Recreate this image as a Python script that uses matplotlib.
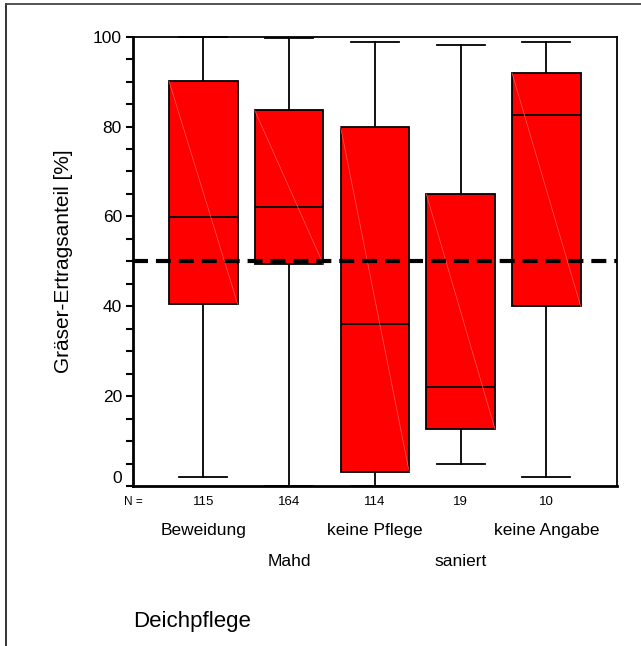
import numpy as np
import matplotlib.pyplot as plt
from matplotlib.lines import Line2D

plt.rcParams['font.family'] = ['Liberation Sans', 'DejaVu Sans']

# Data
categories = ['Beweidung', 'Mahd', 'keine Pflege', 'saniert', 'keine Angabe']
n_obs = [115, 164, 114, 19, 10]
whislo = [2.1, 0.0, 0.0, 5.0, 2.1]
q1 = [40.5, 49.3, 3.2, 12.7, 40.0]
med = [59.9, 62.2, 36.0, 22.0, 82.5]
q3 = [90.1, 83.6, 80.0, 65.0, 91.9]
whishi = [100.0, 99.8, 98.9, 98.2, 98.9]
ref_level = 50

stats = []
for i in range(len(categories)):
    stats.append({'whislo': whislo[i], 'q1': q1[i], 'med': med[i],
                  'q3': q3[i], 'whishi': whishi[i], 'fliers': []})

fig = plt.figure(figsize=(6.41, 6.46), dpi=100)
ax = fig.add_axes([133/641, 1 - 486/646, (616.7 - 133)/641, (486 - 36.7)/646])

pos = np.arange(1, len(categories) + 1)
bp = ax.bxp(stats, positions=pos, widths=0.8, capwidths=0.56, patch_artist=True,
            boxprops=dict(facecolor='#ff0000', edgecolor='black', linewidth=1.3),
            medianprops=dict(color='black', linewidth=1.3),
            whiskerprops=dict(color='black', linewidth=1.3),
            capprops=dict(color='black', linewidth=1.3),
            manage_ticks=False)
for c in bp['caps']:
    c.set_clip_on(False)
for w in bp['whiskers']:
    w.set_clip_on(False)

# faint diagonal streak inside each box
for i, p in enumerate(pos):
    ax.plot([p - 0.4, p + 0.4], [q3[i], q1[i]], color='#ff5a5a', linewidth=0.5, zorder=2.5)

ax.axhline(ref_level, color='black', linewidth=3, linestyle=(0, (3.6, 1.9)), zorder=5)

ax.set_xlim(0.18, 5.82)
ax.set_ylim(0, 100)
ax.set_xticks([])
ax.set_yticks(np.arange(0, 101, 5), minor=True)
ax.set_yticks(np.arange(0, 101, 20))
ax.tick_params(axis='y', which='both', direction='out', length=5, width=1.5)
ax.tick_params(axis='y', which='major', labelsize=12.5, pad=3)
for lab in ax.get_yticklabels():
    if lab.get_text() == '0':
        lab.set_verticalalignment('bottom')
for s in ['top', 'right']:
    ax.spines[s].set_linewidth(1.3)
for s in ['left', 'bottom']:
    ax.spines[s].set_linewidth(2)

ax.set_ylabel('Gräser-Ertragsanteil [%]', fontsize=15, labelpad=14)

# N row and staggered category labels
tr = ax.get_xaxis_transform()
ax.text(0.18, -0.035, 'N =', transform=tr, fontsize=8.5, ha='center', va='center')
for i, p in enumerate(pos):
    ax.text(p, -0.035, str(n_obs[i]), transform=tr, fontsize=9.5, ha='center', va='center')
    yoff = -0.098 if i % 2 == 0 else -0.167
    ax.text(p, yoff, categories[i], transform=tr, fontsize=12.5, ha='center', va='center')

fig.text(133/641, 1 - 621/646, 'Deichpflege', fontsize=16, ha='left', va='center')

# outer frame (cut off at right and bottom)
fig.add_artist(Line2D([6/641, 6/641], [0, 1 - 4/646], transform=fig.transFigure,
                      color='#222222', linewidth=1.3))
fig.add_artist(Line2D([6/641, 1], [1 - 4/646, 1 - 4/646], transform=fig.transFigure,
                      color='#444444', linewidth=1.3))

fig.savefig('out.png', dpi=100)
